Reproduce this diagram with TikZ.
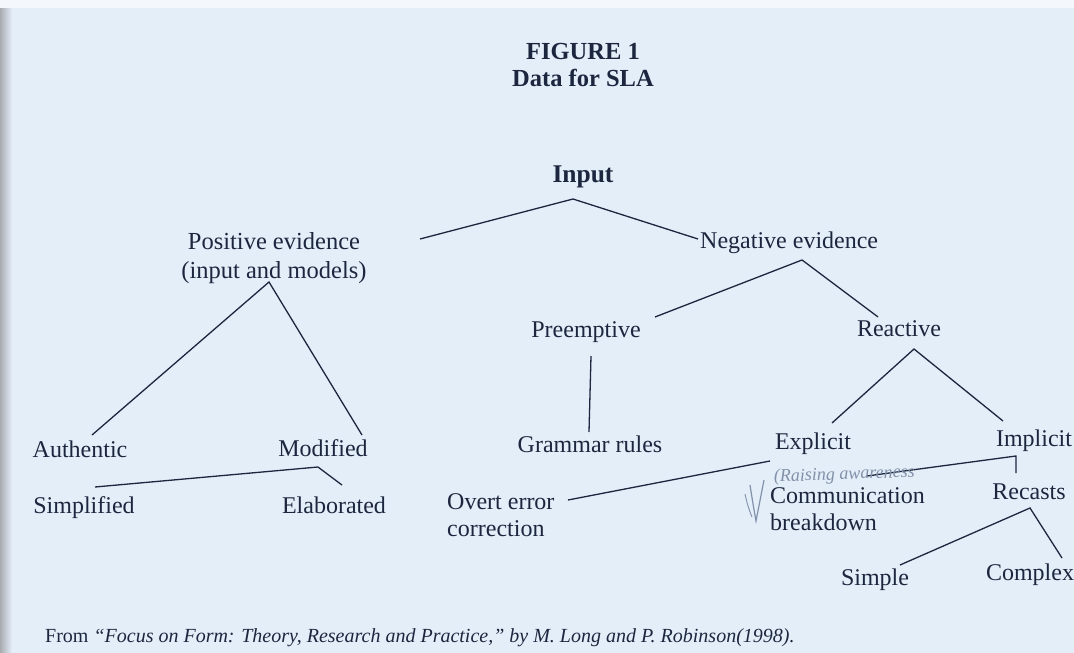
\documentclass[tikz,border=0pt]{standalone}
\usepackage{fontspec}
\setmainfont{Liberation Serif}
\definecolor{ink}{RGB}{28,38,62}
\definecolor{paper}{RGB}{228,238,249}
\definecolor{pencil}{RGB}{130,145,170}
\tikzset{
  lbl/.style={text=ink, inner sep=0pt, font=\fontsize{24}{28}\selectfont},
  ttl/.style={text=ink, inner sep=0pt, font=\fontsize{24.5}{29}\selectfont\bfseries},
  edge/.style={draw=ink, line width=1.3pt, line join=miter},
  note/.style={text=pencil, inner sep=0pt, font=\fontsize{18}{20}\selectfont\itshape},
}
\begin{document}
\begin{tikzpicture}[x=1pt,y=-1pt]
% paper
\fill[paper] (0,0) rectangle (1074,653);
\fill[white!60!paper] (0,0) rectangle (1074,8);
\shade[left color=gray!60!paper, right color=paper] (0,8) rectangle (12,653);
\useasboundingbox (0,0) rectangle (1074,653);

% titles
\node[ttl, anchor=base] (fig) at (583,59) {FIGURE 1};
\node[ttl, anchor=base] (data) at (583,86) {Data for SLA};
\node[ttl, anchor=base, font=\fontsize{25.5}{30}\selectfont\bfseries] (input) at (583,182) {Input};

% nodes (for two-line nodes the base anchor is the baseline of the last line)
\node[lbl, anchor=base, align=center, font=\fontsize{24.5}{29}\selectfont] (pos) at (274,278) {Positive evidence\\(input and models)};
\node[lbl, anchor=base west] (neg) at (700,248) {Negative evidence};
\node[lbl, anchor=base] (auth) at (80,457) {Authentic};
\node[lbl, anchor=base] (mod) at (323,456) {Modified};
\node[lbl, anchor=base] (simp) at (84,513) {Simplified};
\node[lbl, anchor=base] (elab) at (334,513) {Elaborated};
\node[lbl, anchor=base] (pre) at (586,337) {Preemptive};
\node[lbl, anchor=base] (rea) at (899,336) {Reactive};
\node[lbl, anchor=base] (gram) at (590,452) {Grammar rules};
\node[lbl, anchor=base] (expl) at (813,449) {Explicit};
\node[lbl, anchor=base] (impl) at (1034,446) {Implicit};
\node[lbl, anchor=base west, align=left, font=\fontsize{24}{27}\selectfont] (overt) at (447,536) {Overt error\\correction};
\node[lbl, anchor=base west, align=left, font=\fontsize{24}{27}\selectfont] (comm) at (770,530) {Communication\\breakdown};
\node[lbl, anchor=base] (rec) at (1029,499) {Recasts};
\node[lbl, anchor=base] (simple) at (875,585) {Simple};
\node[lbl, anchor=base] (complex) at (1030,580) {Complex};

% branch points
\coordinate (inA) at (573,199);
\coordinate (inL) at (420,239);
\coordinate (inR) at (698,239);
\coordinate (posA) at (269,282);
\coordinate (posL) at (92,435);
\coordinate (posR) at (362,435);
\coordinate (modA) at (318,467);
\coordinate (modL) at (95,487);
\coordinate (modR) at (342,485);
\coordinate (negA) at (802,260);
\coordinate (negL) at (655,317);
\coordinate (negR) at (878,317);
\coordinate (preT) at (591,356);
\coordinate (preB) at (589,432);
\coordinate (reaA) at (914,349);
\coordinate (reaL) at (832,423);
\coordinate (reaR) at (1003,421);
\coordinate (explA) at (770,461);
\coordinate (explL) at (568,500);
\coordinate (implA) at (1016,456);
\coordinate (implL) at (867,476);
\coordinate (implR) at (1016,473);
\coordinate (recA) at (1030,508);
\coordinate (recL) at (900,565);
\coordinate (recR) at (1062,558);

% connectors
\draw[edge] (inL) -- (inA) -- (inR);
\draw[edge] (posL) -- (posA) -- (posR);
\draw[edge] (modL) -- (modA) -- (modR);
\draw[edge] (negL) -- (negA) -- (negR);
\draw[edge] (preT) -- (preB);
\draw[edge] (reaL) -- (reaA) -- (reaR);
\draw[edge] (explL) -- (explA);
\draw[edge] (implL) -- (implA) -- (implR);
\draw[edge] (recL) -- (recA) -- (recR);

% pencil annotation
\node[note, anchor=base west, rotate=2] (pencilnote) at (774,482) {(Raising awareness};
\draw[pencil, line width=1.2pt] (750,485) .. controls (752,498) and (754,510) .. (756,521) -- (764,480);
\draw[pencil, line width=0.9pt] (745,494) .. controls (747,503) and (749,510) .. (752,517);

% source
\node[anchor=base west, text=ink, inner sep=0pt, font=\fontsize{20}{24}\selectfont] (src) at (45,642) {From \textit{``Focus on Form: Theory, Research and Practice,'' by M. Long and P. Robinson(1998).}};
\end{tikzpicture}
\end{document}
